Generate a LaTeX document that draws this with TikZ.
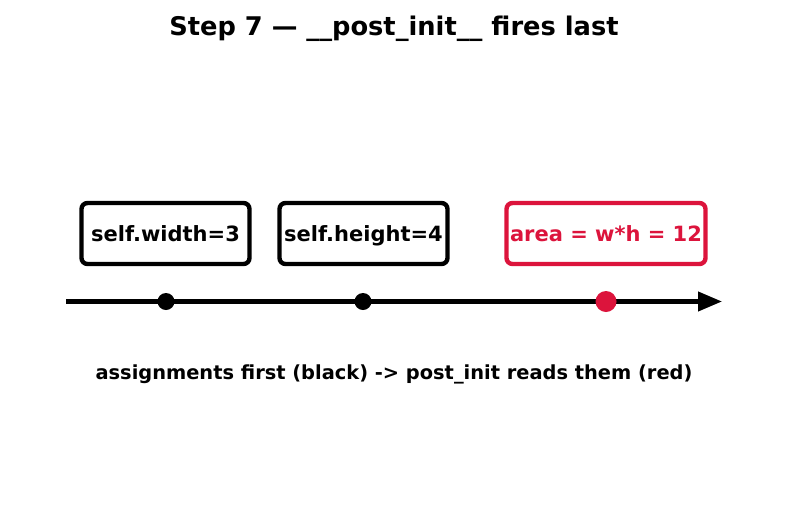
\documentclass[tikz,border=0pt]{standalone}
\usepackage{fontspec}
\setmainfont{DejaVu Sans}
\usetikzlibrary{arrows.meta}
\definecolor{crim}{RGB}{220,20,60}
\tikzset{
  evbox/.style={draw=#1, text=#1, line width=4.4pt, rounded corners=6pt, fill=white,
    minimum height=61pt, inner sep=0pt, text height=15.3pt, text depth=0pt,
    font=\fontsize{21}{25}\selectfont\bfseries},
  axisline/.style={line width=4.2pt, -{Triangle[length=24pt,width=19pt]}},
}
\begin{document}
\begin{tikzpicture}[x=1pt,y=-1pt]
\useasboundingbox (0,0) rectangle (787,512);
\node[anchor=base, font=\fontsize{25.7}{30}\selectfont\bfseries] (title) at (394,35) {Step 7 — \_\_post\_init\_\_ fires last};
\node[evbox=black, minimum width=168pt] (b1) at (165.5,233.5) {self.width=3};
\node[evbox=black, minimum width=168pt] (b2) at (363.5,233.5) {self.height=4};
\node[evbox=crim, minimum width=199pt] (b3) at (606,233.5) {area = w*h = 12};
\coordinate (a0) at (66,301.5);
\coordinate (a1) at (722,301.5);
\draw[axisline] (a0) -- (a1);
\node[circle, fill=black, inner sep=0pt, minimum size=17pt] (d1) at (166,301.5) {};
\node[circle, fill=black, inner sep=0pt, minimum size=17pt] (d2) at (363,301.5) {};
\node[circle, fill=crim, inner sep=0pt, minimum size=21pt] (d3) at (606,301.5) {};
\node[anchor=base, font=\fontsize{19.4}{23}\selectfont\bfseries] (cap) at (394,379) {assignments first (black) -> post\_init reads them (red)};
\end{tikzpicture}
\end{document}
